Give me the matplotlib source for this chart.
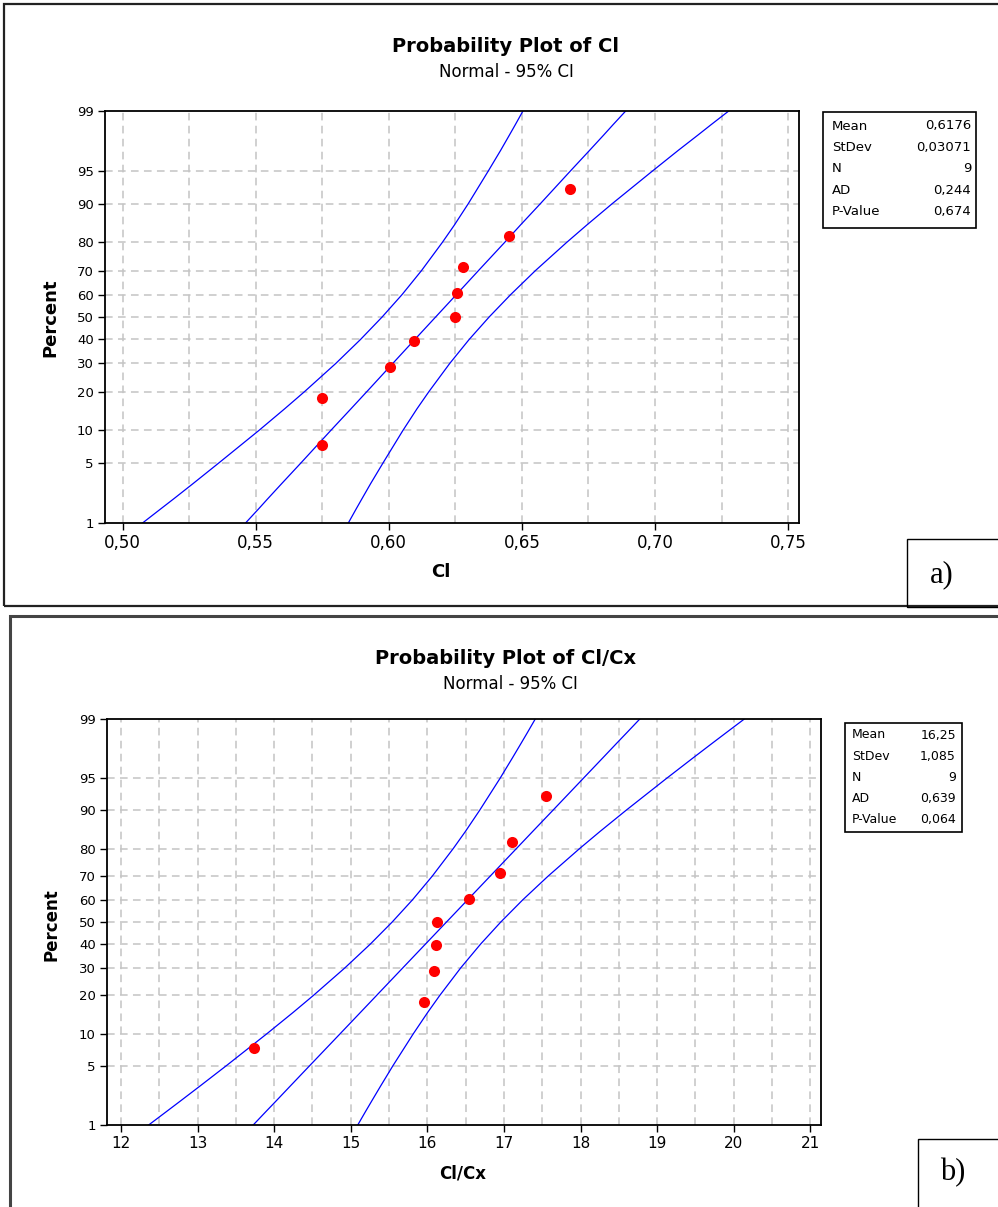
import numpy as np
import matplotlib
matplotlib.use("Agg")
import matplotlib.pyplot as plt
from matplotlib.patches import Rectangle
from statistics import NormalDist

# percent levels where the fitted line and the 95% CI bands were read
band_pct = [1, 1.5, 2, 3, 5, 10, 15, 20, 30, 40, 50, 60, 70, 80, 85, 90, 95, 97, 98, 98.5, 99]
pct_ticks = [1, 5, 10, 20, 30, 40, 50, 60, 70, 80, 90, 95, 99]

# a) Cl
cl_x = [0.575, 0.575, 0.6005, 0.6095, 0.625, 0.6255, 0.628, 0.645, 0.668]
cl_pct = [7.4, 18.1, 28.7, 39.4, 50.0, 60.6, 71.3, 81.9, 92.6]
cl_fit = [0.5462, 0.5510, 0.5545, 0.5598, 0.5671, 0.5782, 0.5858, 0.5918, 0.6015, 0.6098,
          0.6176, 0.6254, 0.6337, 0.6435, 0.6494, 0.6570, 0.6681, 0.6754, 0.6807, 0.6842, 0.6890]
cl_lo = [0.5075, 0.5142, 0.5192, 0.5265, 0.5363, 0.5512, 0.5609, 0.5684, 0.5801, 0.5894,
         0.5975, 0.6050, 0.6123, 0.6201, 0.6246, 0.6299, 0.6373, 0.6420, 0.6453, 0.6475, 0.6504]
cl_hi = [0.5848, 0.5877, 0.5899, 0.5932, 0.5979, 0.6053, 0.6106, 0.6151, 0.6229, 0.6302,
         0.6377, 0.6458, 0.6551, 0.6668, 0.6743, 0.6840, 0.6989, 0.7087, 0.7161, 0.7210, 0.7277]
cl_ticks = [0.50, 0.55, 0.60, 0.65, 0.70, 0.75]
cl_ticklabels = ['0,50', '0,55', '0,60', '0,65', '0,70', '0,75']
cl_minor = [0.525, 0.575, 0.625, 0.675, 0.725]
cl_stats = ['0,6176', '0,03071', '9', '0,244', '0,674']

# b) Cl/Cx
cx_x = [13.73, 15.96, 16.09, 16.11, 16.12, 16.54, 16.95, 17.11, 17.55]
cx_pct = [7.4, 18.1, 28.7, 39.4, 50.0, 60.6, 71.3, 81.9, 92.6]
cx_fit = [13.726, 13.895, 14.022, 14.209, 14.465, 14.860, 15.126, 15.337, 15.681, 15.975,
          16.250, 16.525, 16.819, 17.163, 17.374, 17.641, 18.035, 18.291, 18.478, 18.605, 18.774]
cx_lo = [12.361, 12.597, 12.772, 13.030, 13.378, 13.903, 14.247, 14.512, 14.925, 15.255,
         15.541, 15.805, 16.063, 16.338, 16.496, 16.684, 16.948, 17.111, 17.228, 17.306, 17.409]
cx_hi = [15.091, 15.194, 15.272, 15.389, 15.552, 15.816, 16.004, 16.162, 16.437, 16.695,
         16.959, 17.245, 17.575, 17.988, 18.253, 18.597, 19.122, 19.470, 19.728, 19.903, 20.139]
cx_ticks = [12, 13, 14, 15, 16, 17, 18, 19, 20, 21]
cx_ticklabels = [str(t) for t in cx_ticks]
cx_minor = [12.5, 13.5, 14.5, 15.5, 16.5, 17.5, 18.5, 19.5, 20.5]
cx_stats = ['16,25', '1,085', '9', '0,639', '0,064']

stat_names = ['Mean', 'StDev', 'N', 'AD', 'P-Value']

W, H = 998, 1207
nd = NormalDist()


def pct_fwd(p):
    p = np.clip(np.asarray(p, dtype=float), 1e-6, 100 - 1e-6)
    return np.vectorize(lambda v: nd.inv_cdf(v / 100.0), otypes=[float])(p)


def pct_inv(z):
    z = np.asarray(z, dtype=float)
    return np.vectorize(lambda v: nd.cdf(v) * 100.0, otypes=[float])(z)


def fx(px):
    return px / W


def fy(py):
    return 1 - py / H


def box(fig, x0, y0, x1, y1, **kw):
    r = Rectangle((fx(x0), fy(y1)), fx(x1) - fx(x0), fy(y0) - fy(y1),
                  transform=fig.transFigure, fill=False, **kw)
    fig.patches.append(r)


def prob_panel(fig, rect, x, pct, fit, lo, hi, xlim, ticks, ticklabels, minor, xsize):
    l, r, t, b = rect
    ax = fig.add_axes([fx(l), fy(b), fx(r) - fx(l), fy(t) - fy(b)])
    ax.set_yscale('function', functions=(pct_fwd, pct_inv))
    ax.set_ylim(1, 99)
    ax.set_xlim(*xlim)
    grid_kw = dict(color='#c4c4c4', lw=1.1, ls=(0, (5, 3.5)), zorder=0)
    for g in list(ticks) + list(minor):
        ax.axvline(g, **grid_kw)
    for g in pct_ticks[1:-1]:
        ax.axhline(g, **grid_kw)
    # CI bands and fitted line
    ax.plot(lo, band_pct, color='#0000ff', lw=0.9, zorder=2)
    ax.plot(fit, band_pct, color='#0000ff', lw=0.9, zorder=2)
    ax.plot(hi, band_pct, color='#0000ff', lw=0.9, zorder=2)
    ax.plot(x, pct, 'o', color='#ff0000', ms=8, mec='none', zorder=3)
    ax.set_yticks(pct_ticks)
    ax.set_yticklabels([str(p) for p in pct_ticks], fontsize=9.5)
    ax.yaxis.set_minor_locator(matplotlib.ticker.NullLocator())
    ax.set_xticks(ticks)
    ax.set_xticklabels(ticklabels, fontsize=xsize)
    ax.tick_params(direction='out', length=5, width=1, color='black', pad=3)
    for s in ax.spines.values():
        s.set_linewidth(1.3)
        s.set_color('black')
    return ax


fig = plt.figure(figsize=(W / 100, H / 100), dpi=100)

# ---- panel a ----
box(fig, 4, 4, 1010, 606, edgecolor='#222222', lw=1.6)
fig.text(fx(505), fy(47), 'Probability Plot of Cl', ha='center', va='center',
         fontsize=14, fontweight='bold')
fig.text(fx(506), fy(72), 'Normal - 95% CI', ha='center', va='center', fontsize=12)
prob_panel(fig, (105, 799, 111, 523), cl_x, cl_pct, cl_fit, cl_lo, cl_hi,
           (0.4934, 0.7541), cl_ticks, cl_ticklabels, cl_minor, 12)
fig.text(fx(50), fy(318), 'Percent', rotation=90, ha='center', va='center',
         fontsize=13, fontweight='bold')
fig.text(fx(441), fy(572), 'Cl', ha='center', va='center', fontsize=13, fontweight='bold')
box(fig, 823, 112, 976, 228, edgecolor='black', lw=1.2)
for i, (n, v) in enumerate(zip(stat_names, cl_stats)):
    yy = 126 + i * 21.5
    fig.text(fx(832), fy(yy), n, ha='left', va='center', fontsize=9.5)
    fig.text(fx(971), fy(yy), v, ha='right', va='center', fontsize=9.5)
box(fig, 907, 539, 1010, 607, edgecolor='black', lw=1.0)
fig.text(fx(942), fy(575), 'a)', ha='center', va='center', fontsize=22,
         family='Liberation Serif')

# ---- panel b ----
box(fig, 10, 616, 1010, 1260, edgecolor='#444444', lw=2.2)
fig.text(fx(506), fy(658), 'Probability Plot of Cl/Cx', ha='center', va='center',
         fontsize=14, fontweight='bold')
fig.text(fx(510), fy(684), 'Normal - 95% CI', ha='center', va='center', fontsize=12)
prob_panel(fig, (107, 821, 719, 1125), cx_x, cx_pct, cx_fit, cx_lo, cx_hi,
           (11.817, 21.14), cx_ticks, cx_ticklabels, cx_minor, 11)
fig.text(fx(52), fy(925), 'Percent', rotation=90, ha='center', va='center',
         fontsize=12, fontweight='bold')
fig.text(fx(463), fy(1173), 'Cl/Cx', ha='center', va='center', fontsize=12,
         fontweight='bold')
box(fig, 845, 723, 962, 832, edgecolor='black', lw=1.2)
for i, (n, v) in enumerate(zip(stat_names, cx_stats)):
    yy = 735 + i * 21.2
    fig.text(fx(852), fy(yy), n, ha='left', va='center', fontsize=9)
    fig.text(fx(956), fy(yy), v, ha='right', va='center', fontsize=9)
box(fig, 918, 1139, 1010, 1260, edgecolor='black', lw=1.0)
fig.text(fx(953), fy(1173), 'b)', ha='center', va='center', fontsize=22,
         family='Liberation Serif')

fig.savefig('out.png', dpi=100)
